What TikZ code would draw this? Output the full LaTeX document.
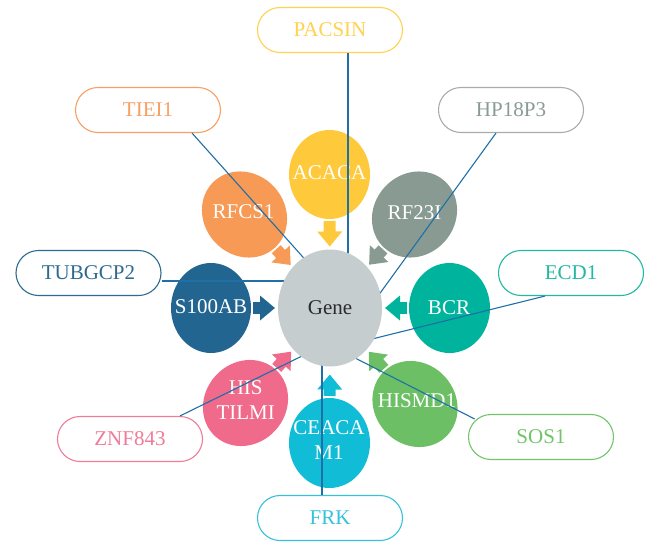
\documentclass[tikz,border=0pt]{standalone}
\usepackage{fontspec}
\setmainfont{Liberation Serif}
\usetikzlibrary{shapes.geometric,arrows.meta}
\definecolor{cGene}{HTML}{C6CDCF}
\definecolor{cGeneTxt}{HTML}{2B2B2B}
\definecolor{cACACA}{HTML}{FFC93C}
\definecolor{cPACSIN}{HTML}{FFD24F}
\definecolor{cRFCS1}{HTML}{F69A55}
\definecolor{cTIEI1}{HTML}{F7A065}
\definecolor{cRF23I}{HTML}{889A92}
\definecolor{cHPb}{HTML}{ABABAB}
\definecolor{cHPt}{HTML}{8A9C94}
\definecolor{cS100AB}{HTML}{226590}
\definecolor{cTUBGCP2}{HTML}{2E6B8F}
\definecolor{cBCR}{HTML}{00B39C}
\definecolor{cECD1}{HTML}{22B8A2}
\definecolor{cHISMD1}{HTML}{6CBF64}
\definecolor{cSOS1}{HTML}{72C46A}
\definecolor{cCEACAM1}{HTML}{11BCD6}
\definecolor{cFRK}{HTML}{35C2DA}
\definecolor{cHISTILMI}{HTML}{EF6A8B}
\definecolor{cZNF843}{HTML}{EF7C99}
\definecolor{cLine}{HTML}{1E70A6}
\pgfdeclarelayer{fg}
\pgfsetlayers{main,fg}
\begin{document}
\begin{tikzpicture}[x=1pt,y=-1pt,
  every node/.style={font=\fontsize{21}{25}\selectfont},
  ell/.style={ellipse, inner sep=0pt, outer sep=0pt, minimum width=81pt, minimum height=90pt},
  etxt/.style={text=white, align=center, inner sep=0pt},
  gbox/.style={rectangle, rounded corners=22.5pt, minimum width=145pt, minimum height=45pt, inner sep=0pt, line width=1.1pt, fill=white},
  conn/.style={draw=cLine, line width=1.1pt},
  blk/.style={line width=12pt, -{Triangle[length=15pt,width=24pt]}, shorten <=2pt, shorten >=3pt}]
\useasboundingbox (0,0) rectangle (645,541);
% centre
\begin{pgfonlayer}{fg}
\node[ell, fill=cGene, minimum width=104pt, minimum height=117pt, text=cGeneTxt] (Gene) at (330,308) {Gene};
\end{pgfonlayer}
% outer ellipses
\node[ell, fill=cACACA, minimum height=89pt] (ACACA) at (329.5,174.5) {};
\node[ell, fill=cRFCS1, rotate=42] (RFCS1) at (244.5,214.5) {};
\node[ell, fill=cRF23I, rotate=-42] (RF23I) at (414.5,214.5) {};
\node[ell, fill=cS100AB, minimum width=80pt] (S100AB) at (211,308) {};
\node[ell, fill=cBCR] (BCR) at (449.5,308) {};
\node[ell, fill=cHISMD1, rotate=42] (HISMD1) at (415,404) {};
\node[ell, fill=cCEACAM1] (CEACAM1) at (329.5,443) {};
\node[ell, fill=cHISTILMI, rotate=-42] (HISTILMI) at (245.5,403) {};
% texts
\node[etxt] (tACACA) at (329.5,172.5) {ACACA};
\node[etxt] (tRFCS1) at (243.5,212) {RFCS1};
\node[etxt] (tRF23I) at (414.5,213) {RF23I};
\node[etxt] (tS100AB) at (211,307) {S100AB};
\node[etxt] (tBCR) at (449,308) {BCR};
\node[etxt] (tHISMD1) at (417,401) {HISMD1};
\node[etxt] (tCEACAM1) at (329,440.5) {CEACA\\M1};
\node[etxt] (tHISTILMI) at (245.7,400.5) {HIS\\TILMI};
% block arrows
\draw[blk, draw=cACACA] (ACACA) -- (Gene);
\draw[blk, draw=cRFCS1] (RFCS1) -- (Gene);
\draw[blk, draw=cRF23I] (RF23I) -- (Gene);
\draw[blk, draw=cS100AB] (S100AB) -- (Gene);
\draw[blk, draw=cBCR] (BCR) -- (Gene);
\draw[blk, draw=cHISMD1] (HISMD1) -- (Gene);
\draw[blk, draw=cCEACAM1, shorten >=8pt] (CEACAM1) -- (Gene);
\draw[blk, draw=cHISTILMI] (HISTILMI) -- (Gene);
% boxes
\node[gbox, draw=cPACSIN, text=cPACSIN] (PACSIN) at (330,30) {PACSIN};
\node[gbox, draw=cTIEI1, text=cTIEI1] (TIEI1) at (148,110) {TIEI1};
\node[gbox, draw=cHPb, text=cHPt] (HP18P3) at (511,110) {HP18P3};
\node[gbox, draw=cTUBGCP2, text=cTUBGCP2] (TUBGCP2) at (88.5,273) {TUBGCP2};
\node[gbox, draw=cECD1, text=cECD1] (ECD1) at (571,273) {ECD1};
\node[gbox, draw=cZNF843, text=cZNF843] (ZNF843) at (130,439) {ZNF843};
\node[gbox, draw=cSOS1, text=cSOS1] (SOS1) at (541,437) {SOS1};
\node[gbox, draw=cFRK, text=cFRK] (FRK) at (330,518) {FRK};
% connector end points inside Gene
\coordinate (ePACSIN) at (348,258);
\coordinate (eTIEI1) at (306,260.5);
\coordinate (eHP18P3) at (378,296);
\coordinate (eTUBGCP2) at (290,281);
\coordinate (eECD1) at (368,340);
\coordinate (eSOS1) at (352.5,356.7);
\coordinate (eFRK) at (322,362);
\coordinate (eZNF843) at (304.5,354.8);
% connectors
\draw[conn] (ePACSIN |- PACSIN.south) -- (ePACSIN);
\draw[conn] ([xshift=44pt]TIEI1.south) -- (eTIEI1);
\draw[conn] ([xshift=-15pt]HP18P3.south) -- (eHP18P3);
\draw[conn] (eTUBGCP2 -| TUBGCP2.east) -- (eTUBGCP2);
\draw[conn] ([xshift=-26pt]ECD1.south) -- (eECD1);
\draw[conn] ([xshift=6.7pt,yshift=18pt]SOS1.west) -- (eSOS1);
\draw[conn] (eFRK |- FRK.north) -- (eFRK);
\draw[conn] ([xshift=50pt]ZNF843.north) -- (eZNF843);
\end{tikzpicture}
\end{document}
